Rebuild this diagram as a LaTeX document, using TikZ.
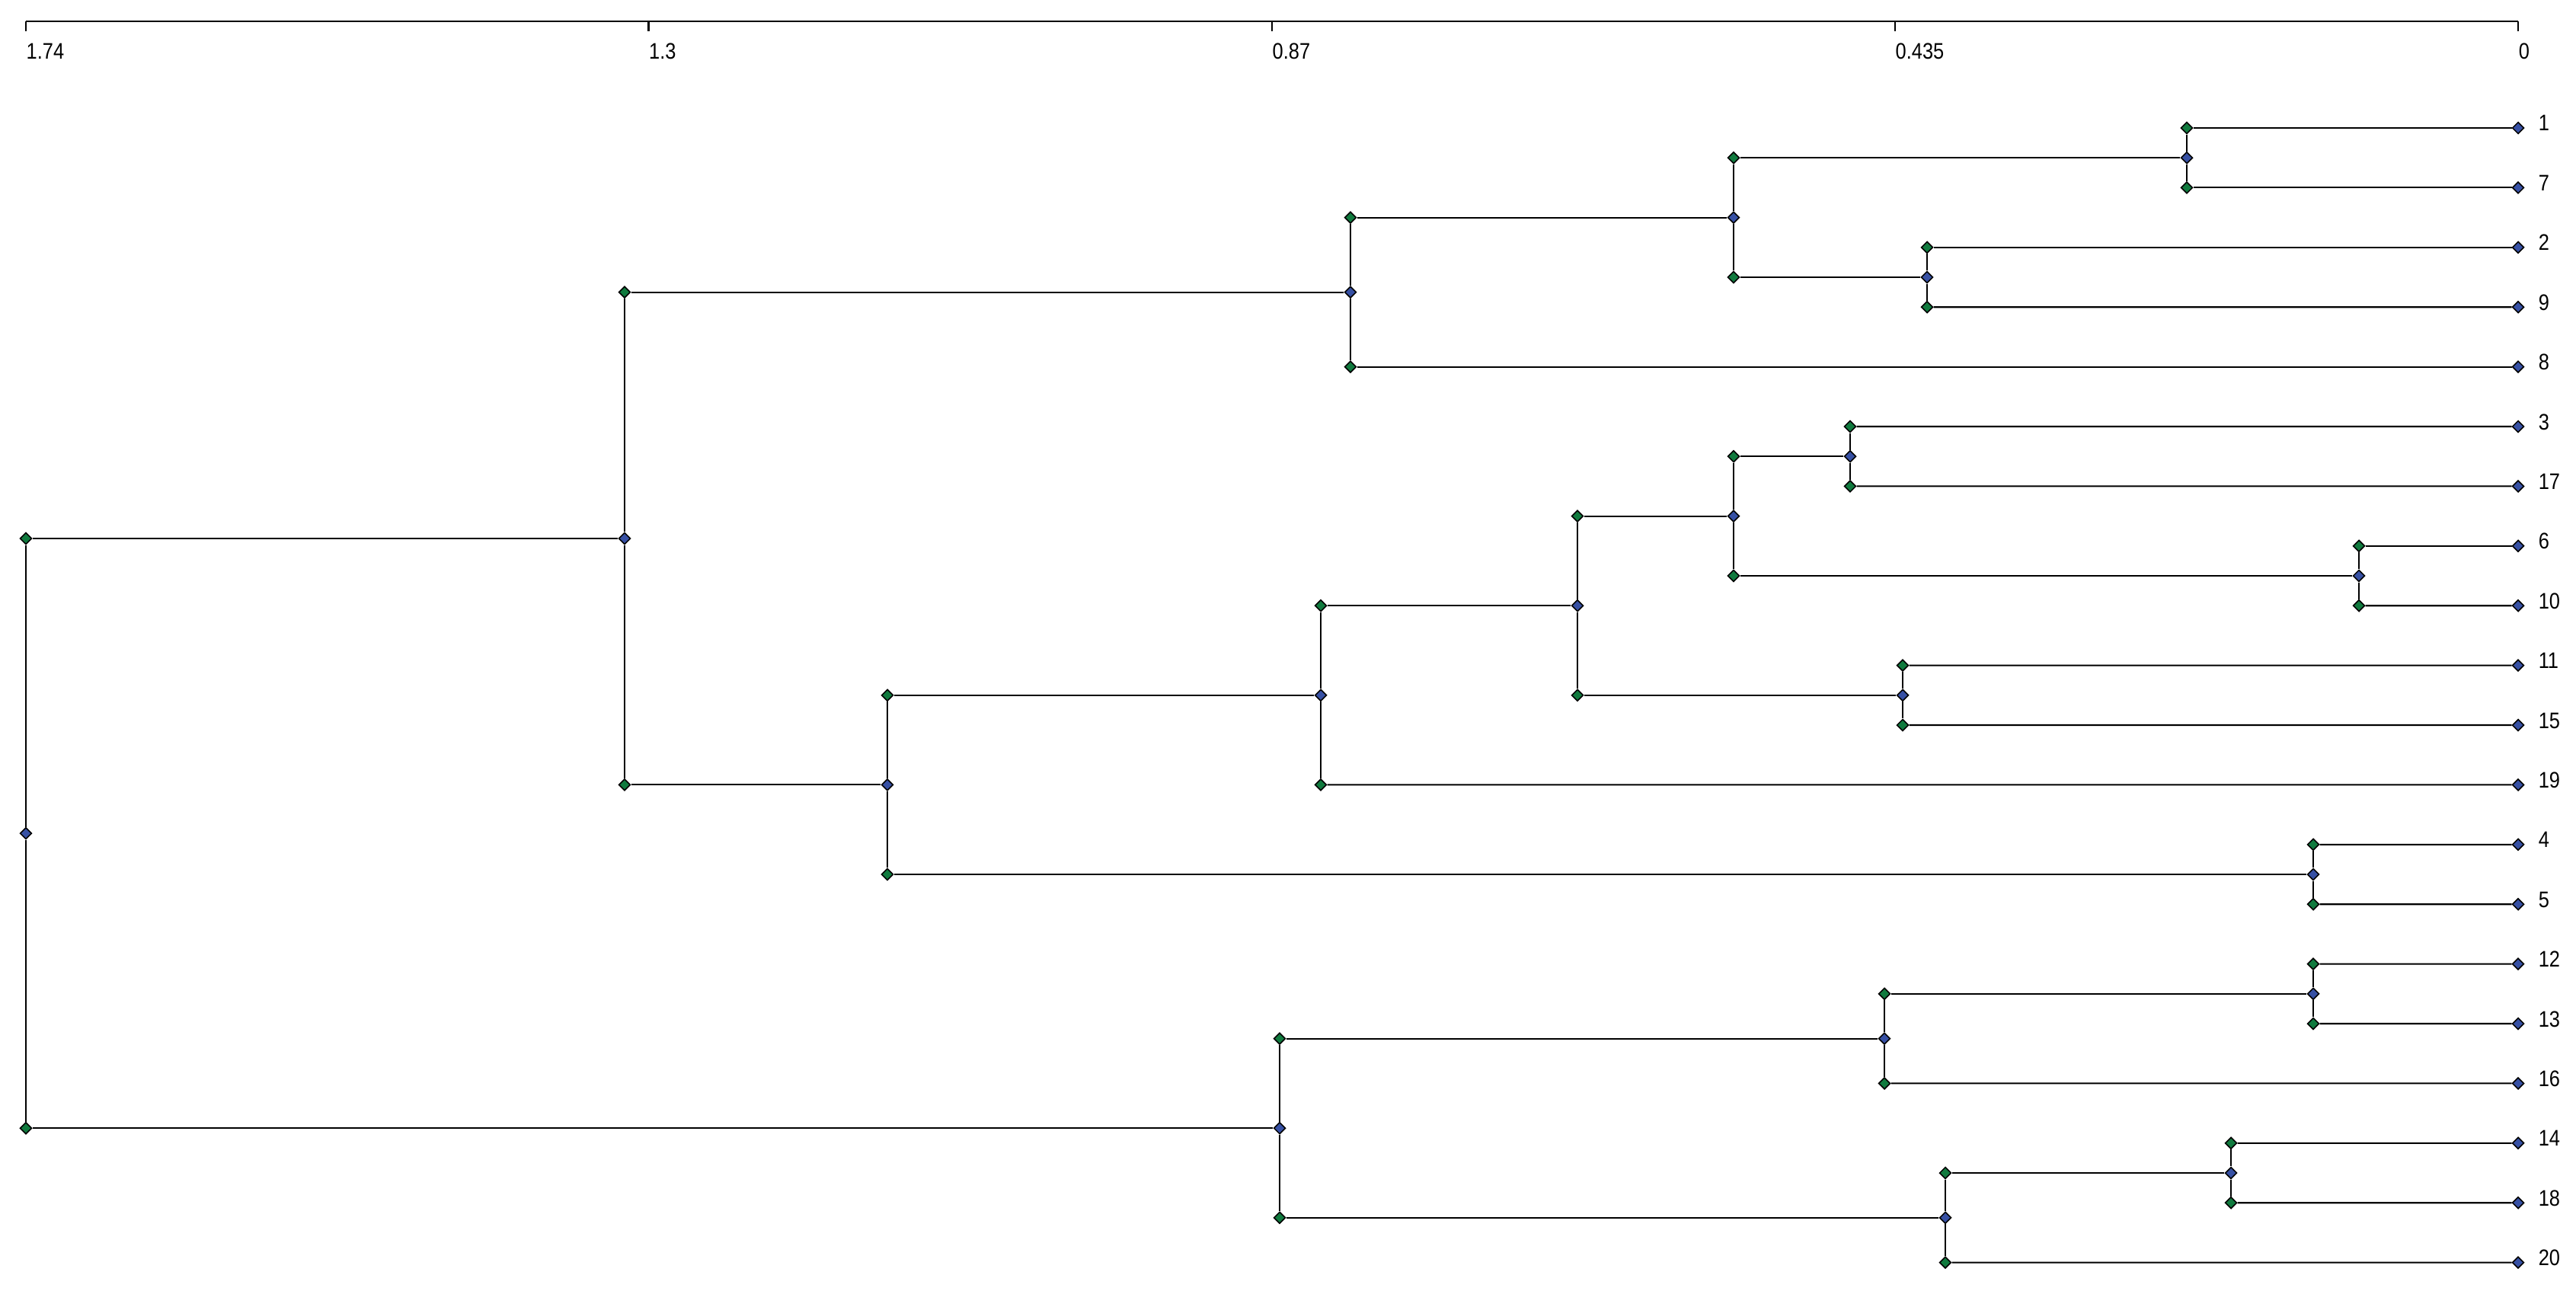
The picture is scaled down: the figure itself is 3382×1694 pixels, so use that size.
\documentclass[tikz,border=0pt]{standalone}
\usepackage{fontspec}
\setmainfont{Liberation Sans}[FakeStretch=0.86]
\usetikzlibrary{shapes.geometric}

\definecolor{endgreen}{RGB}{16,122,62}
\definecolor{joinblue}{RGB}{54,80,164}

\begin{document}
\begin{tikzpicture}[
    x=0.01cm, y=-0.01cm,
    font=\fontsize{8.4}{10}\selectfont,
    link/.style={line width=0.6pt},
    dot/.style={diamond, draw=black, line width=0.45pt, inner sep=0pt, minimum size=0.155cm},
    leafdot/.style={dot, fill=joinblue},
    middot/.style={dot, fill=joinblue},
    enddot/.style={dot, fill=endgreen},
    numlabel/.style={anchor=base west, inner sep=0pt}
]
\useasboundingbox (0,0) rectangle (3382,1694);

% distance scale
\coordinate (axisl) at (34,28);
\coordinate (axisr) at (3306,28);
\draw[line width=0.85pt] (axisl) -- (axisr);
\foreach \tx/\tl [count=\i] in {34/1.74, 851.5/1.3, 1670/0.87, 2488/0.435, 3306/0} {
  \draw[link] (\tx,28) -- (\tx,41);
  \node[numlabel] (tick\i) at (\tx,78) {\tl};
}

% leaves
\foreach \lab [count=\k from 0] in {1,7,2,9,8,3,17,6,10,11,15,19,4,5,12,13,16,14,18,20} {
  \node[leafdot] (l\lab) at (3306,168+78.4*\k) {};
  \node[numlabel] (name\lab) at (3332,172+78.4*\k) {\lab};
}

% merges: name / x / top y / bottom y
\foreach \n/\x/\ya/\yb in {A/2871/168/246.4, B/2530/324.8/403.2, C/2276/207.2/364,
    D/1773/285.6/481.6, E/2429/560/638.4, F/3097/716.8/795.2, G/2276/599.2/756,
    H/2498/873.6/952, I/2071/677.6/912.8, J/1734/795.2/1030.4, K/3037/1108.8/1187.2,
    L/1165/912.8/1148, M/820/383.6/1030.4, N/3037/1265.6/1344, O/2474/1304.8/1422.4,
    P/2929/1500.8/1579.2, Q/2554/1540/1657.6, R/1680/1363.6/1598.8, S/34/707/1481.2} {
  \node[enddot] (top\n) at (\x,\ya) {};
  \node[middot] (mid\n) at (\x,{(\ya+\yb)/2}) {};
  \node[enddot] (bot\n) at (\x,\yb) {};
  \draw[link] (top\n) -- (mid\n) -- (bot\n);
}

\foreach \a/\b in {l1/topA, l7/botA, l2/topB, l9/botB, midA/topC, midB/botC,
    midC/topD, l8/botD, l3/topE, l17/botE, l6/topF, l10/botF, midE/topG, midF/botG,
    l11/topH, l15/botH, midG/topI, midH/botI, midI/topJ, l19/botJ, l4/topK, l5/botK,
    midJ/topL, midK/botL, midD/topM, midL/botM, l12/topN, l13/botN, midN/topO, l16/botO,
    l14/topP, l18/botP, midP/topQ, l20/botQ, midO/topR, midQ/botR, midM/topS, midR/botS}
  \draw[link] (\a) -- (\b);

\end{tikzpicture}
\end{document}
